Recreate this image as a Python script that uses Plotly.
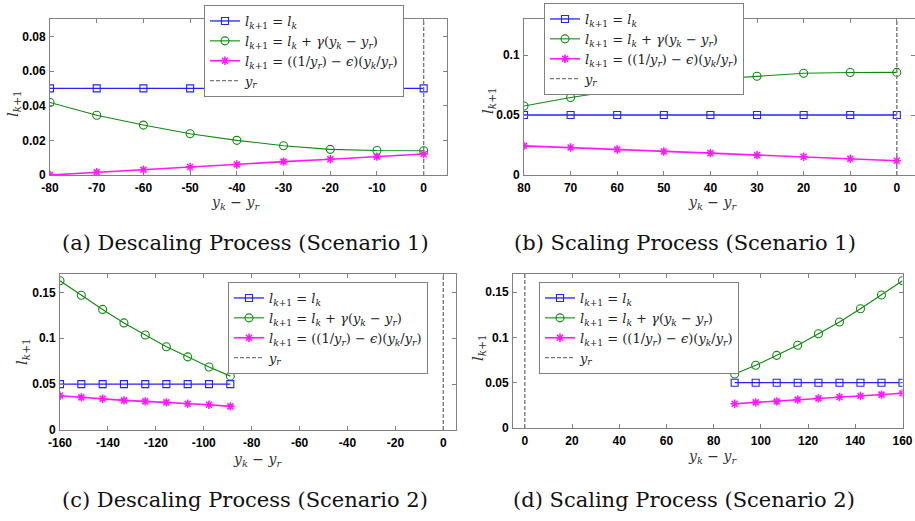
import plotly.graph_objects as go

W, H = 915, 521

# ---------------- data ----------------
xa = [-80, -70, -60, -50, -40, -30, -20, -10, 0]
a_blue = [0.05, 0.05, 0.05, 0.05, 0.05, 0.05, 0.05, 0.05, 0.05]
a_green = [0.0418, 0.0345, 0.0288, 0.0238, 0.0200, 0.0169, 0.0148, 0.0141, 0.0140]
a_mag = [0.0, 0.0016, 0.0030, 0.0046, 0.0061, 0.0077, 0.0091, 0.0106, 0.0121]

xb = [80, 70, 60, 50, 40, 30, 20, 10, 0]
b_blue = [0.05, 0.05, 0.05, 0.05, 0.05, 0.05, 0.05, 0.05, 0.05]
b_green = [0.0575, 0.0646, 0.0704, 0.0754, 0.0796, 0.0823, 0.0848, 0.0854, 0.0855]
b_mag = [0.0243, 0.0229, 0.0213, 0.0196, 0.0182, 0.0166, 0.0152, 0.0135, 0.0119]

xc = [-160, -151.1, -142.2, -133.3, -124.4, -115.6, -106.7, -97.8, -88.9]
c_blue = [0.05, 0.05, 0.05, 0.05, 0.05, 0.05, 0.05, 0.05, 0.05]
c_green = [0.1626, 0.1468, 0.1314, 0.1167, 0.1035, 0.0907, 0.0797, 0.0686, 0.0587]
c_mag = [0.0374, 0.0356, 0.0341, 0.0323, 0.0312, 0.0301, 0.0286, 0.0275, 0.0257]

xd = [88.9, 97.8, 106.7, 115.6, 124.4, 133.3, 142.2, 151.1, 160]
d_blue = [0.05, 0.05, 0.05, 0.05, 0.05, 0.05, 0.05, 0.05, 0.05]
d_green = [0.0596, 0.0692, 0.0802, 0.0913, 0.1040, 0.1170, 0.1317, 0.1468, 0.1626]
d_mag = [0.0268, 0.0283, 0.0294, 0.0313, 0.0327, 0.0342, 0.0353, 0.0368, 0.0383]

yr_x = [0, 0]

# tick labels
xt_a = [-80, -70, -60, -50, -40, -30, -20, -10, 0]
xl_a = ["-80", "-70", "-60", "-50", "-40", "-30", "-20", "-10", "0"]
yt_a = [0, 0.02, 0.04, 0.06, 0.08]
yl_a = ["0", "0.02", "0.04", "0.06", "0.08"]
xt_b = [80, 70, 60, 50, 40, 30, 20, 10, 0]
xl_b = ["80", "70", "60", "50", "40", "30", "20", "10", "0"]
yt_b = [0, 0.05, 0.1]
yl_b = ["0", "0.05", "0.1"]
xt_c = [-160, -140, -120, -100, -80, -60, -40, -20, 0]
xl_c = ["-160", "-140", "-120", "-100", "-80", "-60", "-40", "-20", "0"]
xt_d = [0, 20, 40, 60, 80, 100, 120, 140, 160]
xl_d = ["0", "20", "40", "60", "80", "100", "120", "140", "160"]
yt_cd = [0, 0.05, 0.1, 0.15]
yl_cd = ["0", "0.05", "0.1", "0.15"]

captions = ["(a) Descaling Process (Scenario 1)", "(b) Scaling Process (Scenario 1)",
            "(c) Descaling Process (Scenario 2)", "(d) Scaling Process (Scenario 2)"]

n1 = "<i>l</i><sub><i>k</i>+1</sub> = <i>l</i><sub><i>k</i></sub>"
n2 = ("<i>l</i><sub><i>k</i>+1</sub> = <i>l</i><sub><i>k</i></sub> + <i>γ</i>(<i>y</i><sub><i>k</i></sub>"
      " − <i>y</i><sub><i>r</i></sub>)")
n3 = ("<i>l</i><sub><i>k</i>+1</sub> = ((1/<i>y</i><sub><i>r</i></sub>) − <i>ϵ</i>)"
      "(<i>y</i><sub><i>k</i></sub>/<i>y</i><sub><i>r</i></sub>)")
n4 = "<i>y</i><sub><i>r</i></sub>"
ylab = "<i>l</i><sub><i>k</i>+1</sub>"
xlab = "<i>y</i><sub><i>k</i></sub> − <i>y</i><sub><i>r</i></sub>"

# ---------------- style ----------------
BLUE = "#2323ff"
GREEN = "#108a10"
MAG = "#ff1aff"
GRAY = "#7a7a7a"
FRAME = "#808080"
SERIF = "DejaVu Serif"
SANS = "Liberation Sans"

def px_x(p):
    return p / W

def px_y(p):
    return 1 - p / H

panels = [
    dict(x=xa, b=a_blue, g=a_green, m=a_mag, xr=[-80, 5], yr=[0, 0.09],
         dom=(50, 447, 19, 175), xt=xt_a, xl=xl_a, yt=yt_a, yl=yl_a,
         leg=(204, 5), ylp=(13, 104), xlp=(236, 203), cap=(245, 243)),
    dict(x=xb, b=b_blue, g=b_green, m=b_mag, xr=[80, -3.9], yr=[0, 0.13],
         dom=(524, 915, 19, 175), xt=xt_b, xl=xl_b, yt=yt_b, yl=yl_b,
         leg=(544, 3), ylp=(488, 101), xlp=(712, 203), cap=(685, 243)),
    dict(x=xc, b=c_blue, g=c_green, m=c_mag, xr=[-160, 5.3], yr=[0, 0.17],
         dom=(60, 456, 274, 430), xt=xt_c, xl=xl_c, yt=yt_cd, yl=yl_cd,
         leg=(228, 282), ylp=(22, 352), xlp=(257, 460), cap=(245, 500)),
    dict(x=xd, b=d_blue, g=d_green, m=d_mag, xr=[-5, 160], yr=[0, 0.17],
         dom=(513, 902.5, 274, 428), xt=xt_d, xl=xl_d, yt=yt_cd, yl=yl_cd,
         leg=(539, 282), ylp=(478, 348), xlp=(712, 457), cap=(684, 500)),
]

fig = go.Figure()
layout = dict(
    width=W, height=H, margin=dict(l=0, r=0, t=0, b=0, autoexpand=False),
    paper_bgcolor="white", plot_bgcolor="white", showlegend=True,
)
annotations = []

for i, p in enumerate(panels, start=1):
    sfx = "" if i == 1 else str(i)
    xa_name, ya_name = "x" + sfx, "y" + sfx
    leg_name = "legend" + sfx
    common = dict(xaxis=xa_name, yaxis=ya_name, legend=leg_name, mode="lines+markers")
    fig.add_trace(go.Scatter(x=p["x"], y=p["b"], name=n1,
                             line=dict(color=BLUE, width=1.3),
                             marker=dict(symbol="square-open", size=7, color=BLUE, line=dict(width=1.1)),
                             **common))
    fig.add_trace(go.Scatter(x=p["x"], y=p["g"], name=n2,
                             line=dict(color=GREEN, width=1.1),
                             marker=dict(symbol="circle-open", size=8, color=GREEN, line=dict(width=1.1)),
                             **common))
    fig.add_trace(go.Scatter(x=p["x"], y=p["m"], name=n3,
                             line=dict(color=MAG, width=1.6),
                             marker=dict(symbol="asterisk-open", size=7, color=MAG, line=dict(width=1.6, color=MAG)),
                             **common))
    fig.add_trace(go.Scatter(x=yr_x, y=p["yr"], name=n4, mode="lines",
                             xaxis=xa_name, yaxis=ya_name, legend=leg_name,
                             line=dict(color=GRAY, width=1.4, dash="4px,2px")))

    l, r, t, b = p["dom"]
    axcommon = dict(showline=True, linecolor=FRAME, linewidth=1, mirror="ticks",
                    ticks="inside", ticklen=4, tickcolor=FRAME, tickwidth=1,
                    showgrid=False, zeroline=False, tickmode="array", automargin=False,
                    tickfont=dict(family=SANS, size=12, color="black", weight="bold"))
    layout["xaxis" + sfx] = dict(domain=[px_x(l), px_x(r)], range=p["xr"], anchor=ya_name,
                                 tickvals=p["xt"], ticktext=p["xl"], ticklabelstandoff=2, **axcommon)
    layout["yaxis" + sfx] = dict(domain=[px_y(b), px_y(t)], range=p["yr"], anchor=xa_name,
                                 tickvals=p["yt"], ticktext=p["yl"], ticklabelstandoff=1, **axcommon)
    lx, ly = p["leg"]
    layout[leg_name] = dict(x=px_x(lx), y=px_y(ly), xanchor="left", yanchor="top",
                            xref="paper", yref="paper",
                            bgcolor="white", bordercolor=FRAME, borderwidth=1,
                            font=dict(family=SERIF, size=13, color="#222"),
                            itemwidth=30, tracegroupgap=0)
    annotations.append(dict(text=ylab, x=px_x(p["ylp"][0]), y=px_y(p["ylp"][1]),
                            xref="paper", yref="paper", showarrow=False, textangle=-90,
                            xanchor="center", yanchor="middle",
                            font=dict(family=SERIF, size=15, color="#333")))
    annotations.append(dict(text=xlab, x=px_x(p["xlp"][0]), y=px_y(p["xlp"][1]),
                            xref="paper", yref="paper", showarrow=False,
                            xanchor="center", yanchor="middle",
                            font=dict(family=SERIF, size=14, color="#333")))
    annotations.append(dict(text=captions[i - 1], x=px_x(p["cap"][0]), y=px_y(p["cap"][1]),
                            xref="paper", yref="paper", showarrow=False,
                            xanchor="center", yanchor="middle",
                            font=dict(family=SERIF, size=21, color="#111")))

layout["annotations"] = annotations
fig.update_layout(**layout)
fig.write_html("out.html")
